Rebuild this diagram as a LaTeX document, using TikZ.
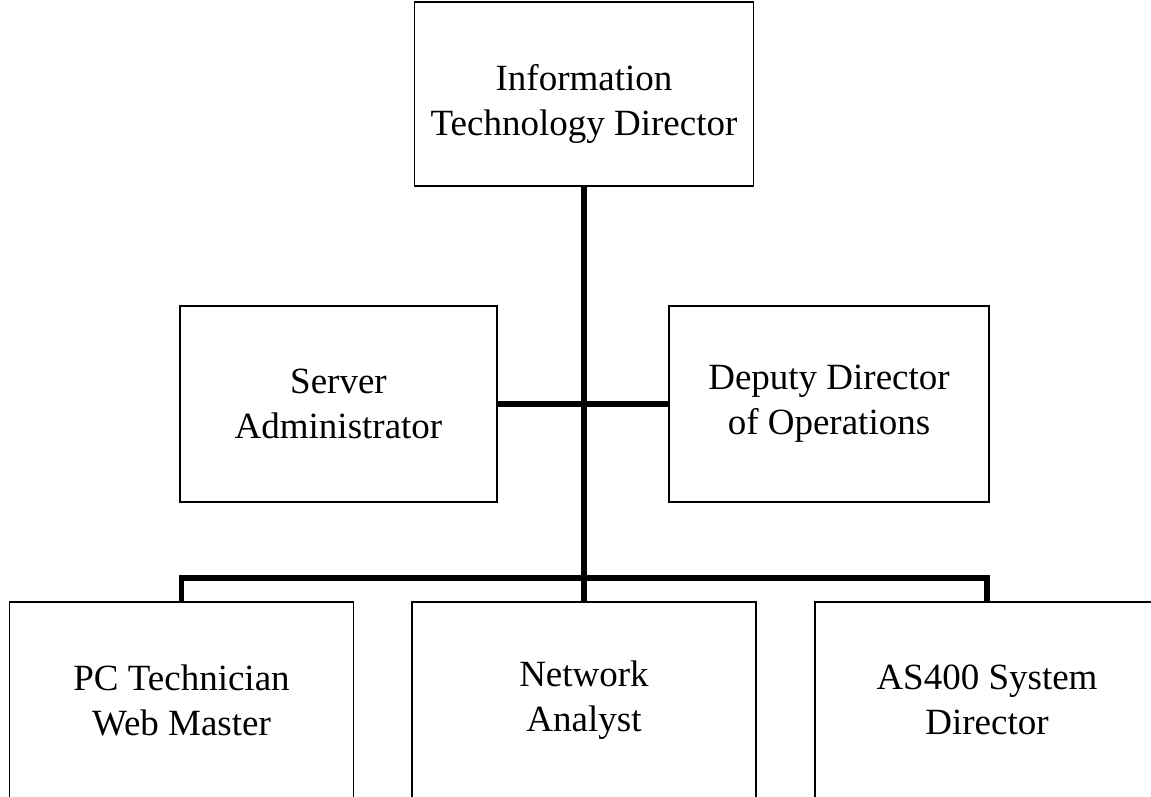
\documentclass[tikz,border=0pt]{standalone}
\usepackage{fontspec}
\setmainfont{Liberation Serif}
\usetikzlibrary{positioning}

\begin{document}
\begin{tikzpicture}[x=1pt, y=-1pt,
    post/.style={rectangle, draw, line width=1.6pt, align=center, inner sep=0pt, font=\fontsize{37}{45}\selectfont},
    postlabel/.style={align=center, inner sep=0pt, font=\fontsize{37}{45}\selectfont},
    link/.style={line width=5.5pt}
]
\useasboundingbox (0,0) rectangle (1151,797);

% top of the chart
\node[post, minimum width=339pt, minimum height=184pt] (itd) at (584,94) {};
\node[postlabel] (itdtext) at (584,104) {Information\\Technology Director};

% middle row
\node[post, minimum width=317pt, minimum height=196pt] (sadmin) at (338.5,404) {Server\\Administrator};
\node[post, minimum width=320pt, minimum height=196pt] (deputy) at (829,404) {Deputy Director\\of Operations};

% bottom row (runs off the page)
\node[post, minimum width=344pt, minimum height=196pt] (pctech) at (181.5,700) {PC Technician\\Web Master};
\node[post, minimum width=344pt, minimum height=196pt] (netan) at (584,700) {Network\\Analyst};
\node[post, minimum width=344pt, minimum height=196pt] (as400) at (987,700) {AS400 System\\Director};

\coordinate (bus) at (584,578);

\draw[link] (itd.south) -- (bus);
\draw[link] (sadmin.east) -- (deputy.west);
\draw[link] (pctech.north) |- (bus) -| (as400.north);
\draw[link] (bus) -- (netan.north);
\end{tikzpicture}
\end{document}
